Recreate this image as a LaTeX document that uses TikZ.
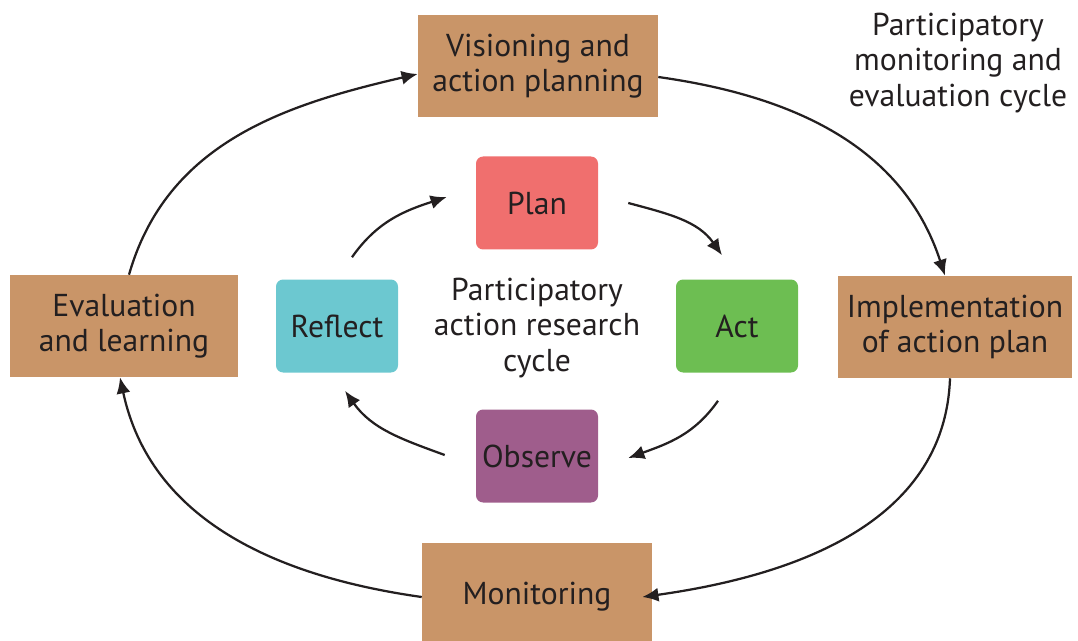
\documentclass[tikz,border=0pt]{standalone}
\usepackage{fontspec}
\setmainfont{PT Sans}
\usetikzlibrary{arrows.meta, positioning, calc}
\definecolor{boxbrown}{RGB}{201,149,104}
\definecolor{planred}{RGB}{240,111,110}
\definecolor{actgreen}{RGB}{109,190,82}
\definecolor{reflectcyan}{RGB}{108,200,208}
\definecolor{observepurple}{RGB}{159,93,140}
\definecolor{inkdark}{RGB}{35,31,32}
\newlength\px
\setlength\px{0.025cm}
\tikzset{
  outerbox/.style={fill=boxbrown, minimum height=102\px, align=center, inner sep=0pt},
  innerbox/.style={rounded corners=5pt, minimum width=122\px, minimum height=93\px, inner sep=0pt},
  cyclearrow/.style={-{Latex[length=11.5pt, width=10pt]}, line width=1.6pt, draw=inkdark}
}

\begin{document}
\begin{tikzpicture}[x=0.025cm, y=0.025cm, font=\fontsize{22.5}{25}\selectfont, text=inkdark]
  \useasboundingbox (0,0) rectangle (1078,640);
  % outer cycle
  \node[outerbox, minimum width=240\px] (vis) at (538,574) {Visioning and\\action planning};
  \node[outerbox, minimum width=234\px] (impl) at (955,313) {Implementation\\of action plan};
  \node[outerbox, minimum width=228\px] (eval) at (124,314) {Evaluation\\and learning};
  \node[outerbox, minimum width=230\px, minimum height=108\px] (mon) at (537,43) {Monitoring};
  \node[align=center] (pmec) at (958,577) {Participatory\\monitoring and\\evaluation cycle};

  % inner cycle
  \node[innerbox, fill=planred] (plan) at (537,437) {Plan};
  \node[innerbox, fill=actgreen] (act) at (737,314) {Act};
  \node[innerbox, fill=reflectcyan] (reflect) at (337,314) {Reflect};
  \node[innerbox, fill=observepurple] (observe) at (537,184) {Observe};
  \node[align=center] (parc) at (537,312) {Participatory\\action research\\cycle};

  \draw[cyclearrow] ([shift={(0,-11)}]vis.east) to[out=-8, in=108] ([shift={(-10,0)}]impl.north);
  \draw[cyclearrow] ([shift={(-5,0)}]impl.south) to[out=-92, in=8] ([shift={(-10,0)}]mon.east);
  \draw[cyclearrow] (mon.west) to[out=172, in=-78] ([shift={(-4,0)}]eval.south);
  \draw[cyclearrow] ([shift={(5,0)}]eval.north) to[out=74, in=193] ([shift={(0,-8)}]vis.west);

  \draw[cyclearrow] ([shift={(15,22)}]reflect.north) to[out=55, in=198] ([shift={(-29,6)}]plan.west);
  \draw[cyclearrow] ([shift={(30,0)}]plan.east) to[out=-15, in=125] ([shift={(-15,24)}]act.north);
  \draw[cyclearrow] ([shift={(-19,-28)}]act.south) to[out=-125, in=20] ([shift={(30,-2)}]observe.east);
  \draw[cyclearrow] ([shift={(-31,1)}]observe.west) to[out=160, in=-55] ([shift={(8,-18)}]reflect.south);
\end{tikzpicture}
\end{document}
